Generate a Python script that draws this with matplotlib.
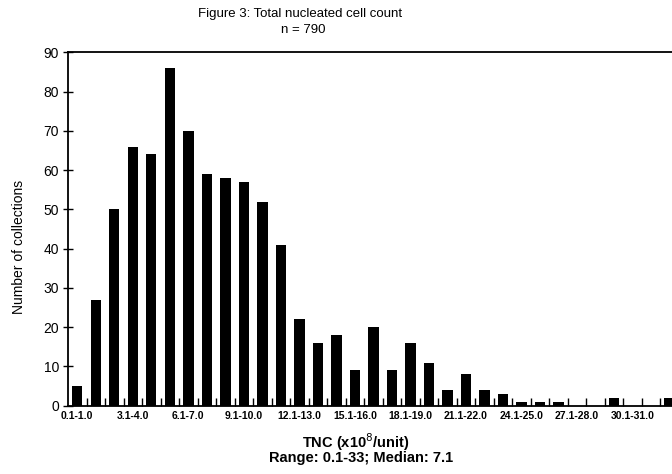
import numpy as np
import matplotlib
matplotlib.use('Agg')
import matplotlib.pyplot as plt

# --- Data ---
bin_labels = ['0.1-1.0', '1.1-2.0', '2.1-3.0', '3.1-4.0', '4.1-5.0', '5.1-6.0',
              '6.1-7.0', '7.1-8.0', '8.1-9.0', '9.1-10.0', '10.1-11.0', '11.1-12.0',
              '12.1-13.0', '13.1-14.0', '14.1-15.0', '15.1-16.0', '16.1-17.0',
              '17.1-18.0', '18.1-19.0', '19.1-20.0', '20.1-21.0', '21.1-22.0',
              '22.1-23.0', '23.1-24.0', '24.1-25.0', '25.1-26.0', '26.1-27.0',
              '27.1-28.0', '28.1-29.0', '29.1-30.0', '30.1-31.0', '31.1-32.0',
              '32.1-33.0']
counts = [5, 27, 50, 66, 64, 86, 70, 59, 58, 57, 52, 41, 22, 16, 18, 9, 20, 9,
          16, 11, 4, 8, 4, 3, 1, 1, 1, 0, 0, 2, 0, 0, 2]
y_ticks = [0, 10, 20, 30, 40, 50, 60, 70, 80, 90]

SANS = ['Liberation Sans', 'DejaVu Sans']

fig = plt.figure(figsize=(6.72, 4.74), dpi=100)
ax = fig.add_axes([0.1012, 0.1441, 0.92, 0.7456])

x = np.arange(len(counts))
ax.bar(x, counts, width=0.56, color='black', zorder=3)

ax.set_xlim(-0.5, 32.9)
ax.set_ylim(0, 90)

# spines
for side in ['left', 'bottom', 'top']:
    ax.spines[side].set_linewidth(1.3)
ax.spines['right'].set_visible(False)

# y axis
ax.set_yticks(y_ticks)
ax.set_yticklabels([str(v) for v in y_ticks], family=SANS, fontsize=10)
ax.tick_params(axis='y', direction='inout', length=7, width=1, pad=3)

# x axis: labels every third bin, small ticks between bins
ax.set_xticks(x[::3])
ax.set_xticklabels(bin_labels[::3], family=SANS, fontsize=7.5, fontweight='bold')
ax.set_xticks(np.arange(0.5, len(counts), 1), minor=True)
ax.tick_params(axis='x', which='major', length=0, pad=4)
ax.tick_params(axis='x', which='minor', direction='in', length=6, width=1)

fig.text(0.028, 0.478, 'Number of collections', rotation=90, ha='center', va='center',
         family=SANS, fontsize=10)

fig.text(0.447, 0.971, 'Figure 3: Total nucleated cell count', ha='center', va='center',
         family=SANS, fontsize=9.5)
fig.text(0.452, 0.937, 'n = 790', ha='center', va='center', family=SANS, fontsize=9.5)

fig.text(0.53, 0.068, 'TNC (x10$^8$/unit)', ha='center', va='center',
         family=SANS, fontsize=10.5, fontweight='bold')
fig.text(0.538, 0.033, 'Range: 0.1-33; Median: 7.1', ha='center', va='center',
         family=SANS, fontsize=10.5, fontweight='bold')

fig.savefig('out.png', dpi=100)
